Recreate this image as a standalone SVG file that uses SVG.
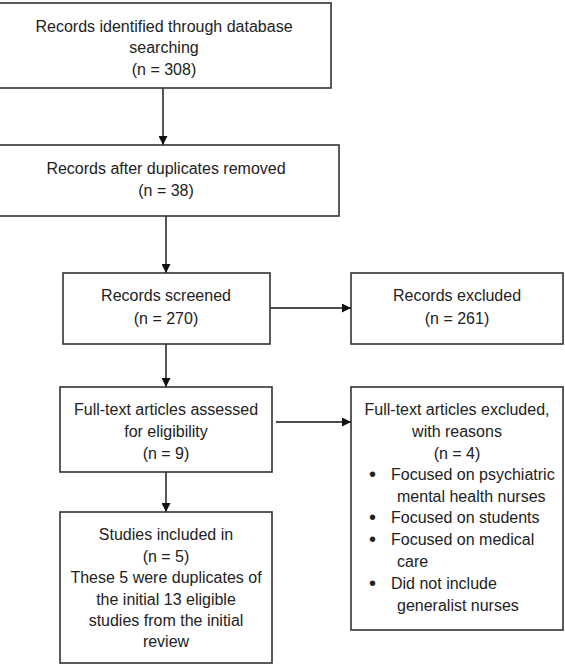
<svg xmlns="http://www.w3.org/2000/svg" width="565" height="667" viewBox="0 0 565 667">
<defs>
<marker id="ah" viewBox="0 0 10 10" refX="10" refY="5" markerWidth="9" markerHeight="9" markerUnits="userSpaceOnUse" orient="auto">
<path d="M0,0 L10,5 L0,10 z" fill="#111"/>
</marker>
<style>
.box{fill:#fff;stroke:#333;stroke-width:1.6}
.t{font-family:"Liberation Sans",Arial,sans-serif;font-size:16px;fill:#222;text-anchor:middle}
.l{font-family:"Liberation Sans",Arial,sans-serif;font-size:16px;fill:#222;text-anchor:start}
.b{font-family:"Liberation Sans",Arial,sans-serif;font-size:20px;fill:#222;text-anchor:start}
.c{stroke:#111;stroke-width:1.4;fill:none;marker-end:url(#ah)}
</style>
</defs>
<rect width="565" height="667" fill="#fff"/>
<g id="connectors">
<line class="c" x1="163" y1="88" x2="163" y2="145"/>
<line class="c" x1="166" y1="216" x2="166" y2="273"/>
<line class="c" x1="270" y1="308" x2="351" y2="308"/>
<line class="c" x1="166" y1="344" x2="166" y2="387"/>
<line class="c" x1="276" y1="422" x2="351" y2="422"/>
<line class="c" x1="166" y1="472" x2="166" y2="512"/>
</g>
<g id="identified">
<rect class="box" x="-1" y="3" width="332" height="85"/>
<text class="t" x="164" y="32">Records identified through database</text>
<text class="t" x="164" y="53">searching</text>
<text class="t" x="164" y="75">(n = 308)</text>
</g>
<g id="duplicates">
<rect class="box" x="-1" y="145" width="340" height="71"/>
<text class="t" x="166" y="174">Records after duplicates removed</text>
<text class="t" x="166" y="196">(n = 38)</text>
</g>
<g id="screened">
<rect class="box" x="63" y="273" width="207" height="71"/>
<text class="t" x="166" y="301">Records screened</text>
<text class="t" x="166" y="324">(n = 270)</text>
</g>
<g id="excluded">
<rect class="box" x="351" y="273" width="212" height="71"/>
<text class="t" x="457" y="301">Records excluded</text>
<text class="t" x="457" y="324">(n = 261)</text>
</g>
<g id="assessed">
<rect class="box" x="60" y="387" width="212" height="85"/>
<text class="t" x="166" y="415">Full-text articles assessed</text>
<text class="t" x="166" y="437">for eligibility</text>
<text class="t" x="166" y="459">(n = 9)</text>
</g>
<g id="fulltext-excluded">
<rect class="box" x="351" y="387" width="212" height="243"/>
<text class="t" x="457" y="415">Full-text articles excluded,</text>
<text class="t" x="457" y="437">with reasons</text>
<text class="t" x="457" y="459">(n = 4)</text>
<text class="b" x="369" y="481">•</text>
<text class="l" x="391" y="480">Focused on psychiatric</text>
<text class="l" x="397" y="502">mental health nurses</text>
<text class="b" x="369" y="524">•</text>
<text class="l" x="391" y="523">Focused on students</text>
<text class="b" x="369" y="546">•</text>
<text class="l" x="391" y="545">Focused on medical</text>
<text class="l" x="397" y="567">care</text>
<text class="b" x="369" y="590">•</text>
<text class="l" x="391" y="589">Did not include</text>
<text class="l" x="397" y="611">generalist nurses</text>
</g>
<g id="included">
<rect class="box" x="60" y="512" width="212" height="151"/>
<text class="t" x="166" y="540">Studies included in</text>
<text class="t" x="166" y="562">(n = 5)</text>
<text class="t" x="166" y="583">These 5 were duplicates of</text>
<text class="t" x="166" y="605">the initial 13 eligible</text>
<text class="t" x="166" y="626">studies from the initial</text>
<text class="t" x="166" y="647">review</text>
</g>
</svg>
